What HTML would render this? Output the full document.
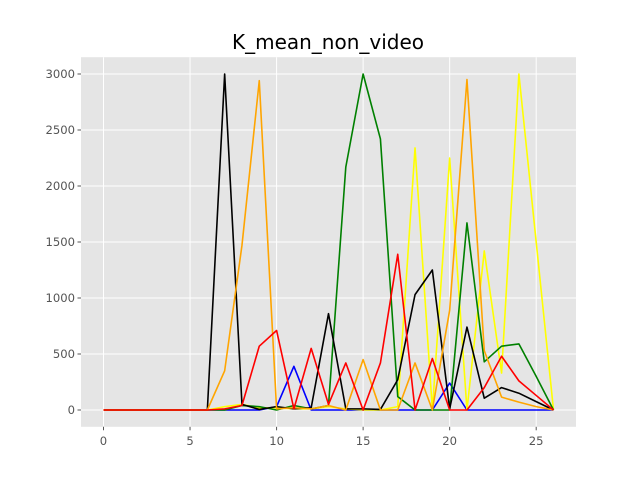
<!DOCTYPE html>
<html><head><meta charset="utf-8"><style>
body{margin:0;background:#fff;font-family:"DejaVu Sans","Liberation Sans",sans-serif}
</style></head><body>
<svg id="chart" width="640" height="480" xmlns="http://www.w3.org/2000/svg" font-family="DejaVu Sans, Liberation Sans, sans-serif">
<rect width="640" height="480" fill="#fff"/>
<text x="328" y="49" text-anchor="middle" font-size="20" fill="#000">K_mean_non_video</text>
<rect x="81" y="57.2" width="495" height="369.6" fill="#e5e5e5"/>
<g id="grid"></g><g id="ticks"></g><g id="lines"></g>
</svg>
<script>
const xTicks=[0,5,10,15,20,25];
const yTicks=[0,500,1000,1500,2000,2500,3000];
const seriesNames=['blue','yellow','green','black','orange','red'];
const blueVals=[0,0,0,0,0,0,0,0,0,0,30,390,0,0,0,0,0,0,0,0,240,0,0,0,0,0,0];
const yellowVals=[0,0,0,0,0,0,0,30,50,20,20,10,10,30,10,0,0,30,2340,0,2250,0,1420,330,3000,1500,0];
const greenVals=[0,0,0,0,0,0,0,0,40,30,0,40,10,40,2170,3000,2420,120,0,0,0,1670,430,570,590,300,0];
const blackVals=[0,0,0,0,0,0,0,3000,50,5,30,10,20,860,10,10,5,270,1030,1250,10,740,105,200,150,75,0];
const orangeVals=[0,0,0,0,0,0,0,350,1470,2940,10,20,10,40,0,450,0,0,420,0,890,2950,530,115,70,30,0];
const redVals=[0,0,0,0,0,0,0,10,40,570,710,10,550,50,420,0,420,1390,0,460,0,0,200,480,260,130,0];
const colors={blue:'#0000ff',yellow:'#ffff00',green:'#008000',black:'#000000',orange:'#ffa500',red:'#ff0000'};
const data={blue:blueVals,yellow:yellowVals,green:greenVals,black:blackVals,orange:orangeVals,red:redVals};
const X0=81,X1=576,Y0=426.8,Y1=57.2,xmin=-1.3,xmax=27.3,ymin=-150,ymax=3150;
const sx=v=>X0+(v-xmin)/(xmax-xmin)*(X1-X0);
const sy=v=>Y0-(v-ymin)/(ymax-ymin)*(Y0-Y1);
const NS='http://www.w3.org/2000/svg';
const grid=document.getElementById('grid'),ticks=document.getElementById('ticks'),lines=document.getElementById('lines');
function mk(t,a){const e=document.createElementNS(NS,t);for(const k in a)e.setAttribute(k,a[k]);return e;}
xTicks.forEach(v=>{
 const l=mk('line',{x1:sx(v),x2:sx(v),y1:Y1,y2:Y0,stroke:'#fff','stroke-width':1});
 
 
 grid.appendChild(l);
 const tk=mk('line',{x1:sx(v),x2:sx(v),y1:Y0,y2:Y0+3.5,stroke:'#555'});
 
 
 ticks.appendChild(tk);
 const t=mk('text',{x:sx(v),y:Y0+18,'text-anchor':'middle','font-size':11.6,fill:'#555'});
 t.textContent=v;
 
 
 ticks.appendChild(t);
});
yTicks.forEach(v=>{
 const l=mk('line',{x1:X0,x2:X1,y1:sy(v),y2:sy(v),stroke:'#fff','stroke-width':1});
 
 
 grid.appendChild(l);
 const tk=mk('line',{x1:X0-3.5,x2:X0,y1:sy(v),y2:sy(v),stroke:'#555'});
 
 
 ticks.appendChild(tk);
 const t=mk('text',{x:X0-6,y:sy(v)+4,'text-anchor':'end','font-size':11.6,fill:'#555'});
 t.textContent=v;
 
 
 ticks.appendChild(t);
});
seriesNames.forEach(n=>{
 const pts=data[n].map((v,i)=>sx(i)+','+sy(v)).join(' ');
 const p=mk('polyline',{points:pts,fill:'none',stroke:colors[n],'stroke-width':1.6,'stroke-linejoin':'round'});
 
 
 lines.appendChild(p);
});
</script>
</body></html>
